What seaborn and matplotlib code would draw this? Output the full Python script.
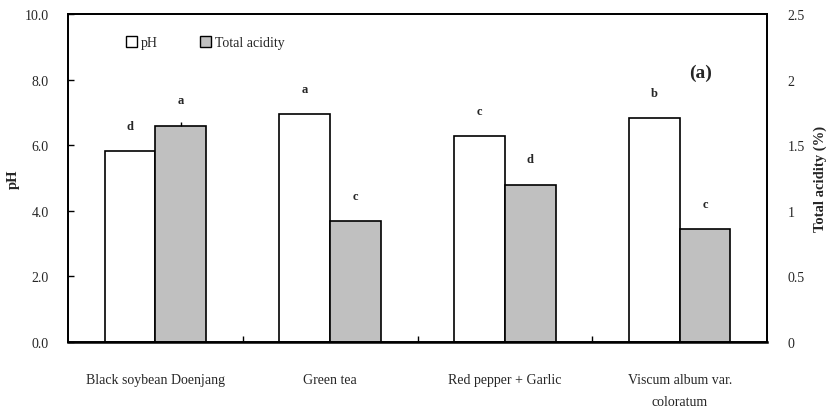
import matplotlib
matplotlib.use("Agg")
import matplotlib.pyplot as plt
import seaborn as sns
import pandas as pd
import numpy as np

categories = ["Black soybean Doenjang", "Green tea", "Red pepper + Garlic", "Viscum album var.\ncoloratum"]
ph_values = [5.82, 6.95, 6.28, 6.83]
acid_values = [1.65, 0.92, 1.20, 0.86]
acid_err = [0.03, 0.0, 0.0, 0.0]
ph_letters = ["d", "a", "c", "b"]
acid_letters = ["a", "c", "d", "c"]
series = ["pH", "Total acidity"]

sns.set_theme(style="white")
plt.rcParams["font.family"] = ["Liberation Serif", "DejaVu Serif"]

fig = plt.figure(figsize=(8.34, 4.14), dpi=100)
ax = fig.add_axes([68/834, 1-343/414, (767-68)/834, (343-15)/414])
ax2 = ax.twinx()

df_ph = pd.DataFrame({"cat": categories, "val": ph_values, "series": "pH"})
df_ac = pd.DataFrame({"cat": categories, "val": acid_values, "series": "Total acidity"})
pal = {"pH": "white", "Total acidity": "#c0c0c0"}

sns.barplot(data=df_ph, x="cat", y="val", hue="series", hue_order=series, order=categories,
            palette=pal, edgecolor="black", linewidth=1.2, width=0.58, dodge=True, ax=ax,
            legend=False, errorbar=None)
sns.barplot(data=df_ac, x="cat", y="val", hue="series", hue_order=series, order=categories,
            palette=pal, edgecolor="black", linewidth=1.2, width=0.58, dodge=True, ax=ax2,
            legend=False, errorbar=None)

ax.set_ylim(0, 10)
ax2.set_ylim(0, 2.5)
ax.set_xlim(-0.5, 3.5)
ax.set_yticks(np.arange(0, 10.01, 2))
ax.set_yticklabels([f"{v:.1f}" for v in np.arange(0, 10.01, 2)], fontsize=10)
ax2.set_yticks([0, 0.5, 1, 1.5, 2, 2.5])
ax2.set_yticklabels(["0", "0.5", "1", "1.5", "2", "2.5"], fontsize=10)
ax.set_xticks(range(len(categories)))
ax.set_xticklabels(categories, fontsize=10, linespacing=1.9)
ax.tick_params(axis="x", length=0, pad=22)
ax.set_xticks([0.5, 1.5, 2.5], minor=True)
ax.tick_params(axis="x", which="minor", direction="in", length=4, width=1, color="black", bottom=True)
ax.tick_params(axis="y", direction="in", length=4, width=1, color="black", left=True, pad=14)
ax2.tick_params(axis="y", direction="out", length=0, pad=15, right=True)
ax.set_xlabel("")
ax.set_ylabel("pH", fontsize=10.5, fontweight="bold", labelpad=3)
ax2.set_ylabel("Total acidity (%)", fontsize=10.5, fontweight="bold", labelpad=6)

for a in (ax, ax2):
    for s in a.spines.values():
        s.set_color("black")
        s.set_linewidth(1.3)
ax.spines["bottom"].set_linewidth(1.8)

ph_patches = [p for p in ax.patches if p.get_height() > 0][:4]
ac_patches = [p for p in ax2.patches if p.get_height() > 0][:4]

for p, lab in zip(ph_patches, ph_letters):
    ax.annotate(lab, (p.get_x() + p.get_width()/2, p.get_height()), xytext=(0, 14),
                textcoords="offset points", ha="center", va="bottom", fontsize=9, fontweight="bold")
for p, lab, e in zip(ac_patches, acid_letters, acid_err):
    x = p.get_x() + p.get_width()/2
    if e > 0:
        ax2.errorbar(x, p.get_height(), yerr=[[0], [e]], fmt="none", ecolor="black", elinewidth=1, capsize=0)
    ax2.annotate(lab, (x, p.get_height()), xytext=(0, 14),
                 textcoords="offset points", ha="center", va="bottom", fontsize=9, fontweight="bold")

from matplotlib.patches import Patch
handles = [Patch(facecolor=pal[s], edgecolor="black", linewidth=1) for s in series]
ax.legend(handles, series, loc="upper left", bbox_to_anchor=(0.065, 0.97), ncol=2, frameon=False,
          fontsize=10, handlelength=0.8, handleheight=0.8, handletextpad=0.3, columnspacing=3.0)

ax.text(0.905, 0.823, "(a)", transform=ax.transAxes, fontsize=14, fontweight="bold", ha="center", va="center")

fig.savefig("out.png", dpi=100)
